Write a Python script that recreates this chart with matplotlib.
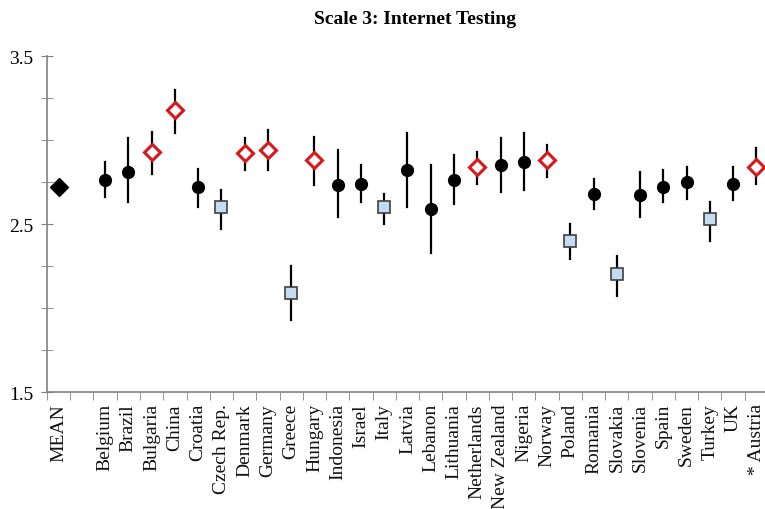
"""Scale 3: Internet Testing - country means with confidence intervals."""

import matplotlib
matplotlib.use("Agg")
import matplotlib.pyplot as plt
import numpy as np

countries = ["MEAN", "", "Belgium", "Brazil", "Bulgaria", "China", "Croatia",
             "Czech Rep.", "Denmark", "Germany", "Greece", "Hungary", "Indonesia",
             "Israel", "Italy", "Latvia", "Lebanon", "Lithuania", "Netherlands",
             "New Zealand", "Nigeria", "Norway", "Poland", "Romania", "Slovakia",
             "Slovenia", "Spain", "Sweden", "Turkey", "UK", "* Austria"]
means = [2.72, np.nan, 2.76, 2.81, 2.93, 3.18, 2.72, 2.60, 2.92, 2.94, 2.09,
         2.88, 2.73, 2.74, 2.60, 2.82, 2.59, 2.76, 2.84, 2.85, 2.87, 2.88,
         2.40, 2.68, 2.20, 2.67, 2.72, 2.75, 2.53, 2.74, 2.84]
ci_low = [2.71, np.nan, 2.66, 2.63, 2.80, 3.04, 2.60, 2.47, 2.82, 2.82, 1.93,
          2.73, 2.54, 2.63, 2.50, 2.60, 2.33, 2.62, 2.74, 2.69, 2.70, 2.78,
          2.29, 2.59, 2.07, 2.54, 2.63, 2.65, 2.40, 2.64, 2.74]
ci_high = [2.73, np.nan, 2.87, 3.01, 3.05, 3.30, 2.83, 2.70, 3.01, 3.06, 2.25,
           3.02, 2.94, 2.85, 2.68, 3.04, 2.85, 2.91, 2.93, 3.01, 3.04, 2.97,
           2.50, 2.77, 2.31, 2.81, 2.82, 2.84, 2.63, 2.84, 2.95]
# group: m = overall mean, h = above mean, l = below mean, n = not different
groups = ["m", "", "n", "n", "h", "h", "n", "l", "h", "h", "l", "h", "n",
          "n", "l", "n", "n", "n", "h", "n", "n", "h", "l", "n", "l", "n",
          "n", "n", "l", "n", "h"]

styles = {
    "m": dict(marker="D", ms=9, mfc="black", mec="black", mew=1),
    "n": dict(marker="o", ms=8.5, mfc="black", mec="black", mew=1),
    "h": dict(marker="D", ms=8, mfc="white", mec="#d7191c", mew=2.2),
    "l": dict(marker="s", ms=8.5, mfc="#c6dbef", mec="#404040", mew=1.2),
}

plt.rcParams["font.family"] = ["Liberation Serif", "DejaVu Serif"]

fig = plt.figure(figsize=(7.65, 5.1), dpi=100)
ax = fig.add_axes([0.0614, 0.2294, 0.9425, 0.6588])

x = np.arange(len(countries))
for xi, m, lo, hi, g in zip(x, means, ci_low, ci_high, groups):
    if not g:
        continue
    ax.plot([xi, xi], [lo, hi], color="black", lw=1.6, zorder=2)
    ax.plot(xi, m, linestyle="none", zorder=3, **styles[g])

ax.set_xlim(-0.5, len(countries) - 0.5)
ax.set_ylim(1.5, 3.5)
ax.set_yticks([1.5, 2.5, 3.5])
ax.set_yticks(np.arange(1.5, 3.51, 0.25), minor=True)
ax.set_xticks(x)
ax.set_xticklabels(countries, rotation=90, fontsize=14, color="#111111")
ax.set_xticks(np.arange(-0.5, len(countries), 1.0), minor=True)
ax.tick_params(axis="x", which="major", length=0, pad=8)
ax.tick_params(axis="x", which="minor", length=6, color="#808080", direction="out")
ax.tick_params(axis="y", which="both", length=8, color="#808080", direction="inout",
               labelsize=14, pad=6)

for side in ["top", "right"]:
    ax.spines[side].set_visible(False)
for side in ["left", "bottom"]:
    ax.spines[side].set_color("#808080")
    ax.spines[side].set_linewidth(1.2)

fig.text(0.543, 0.962, "Scale 3: Internet Testing", ha="center", va="center",
         fontsize=14, fontweight="bold")

fig.savefig("out.png", dpi=100)
